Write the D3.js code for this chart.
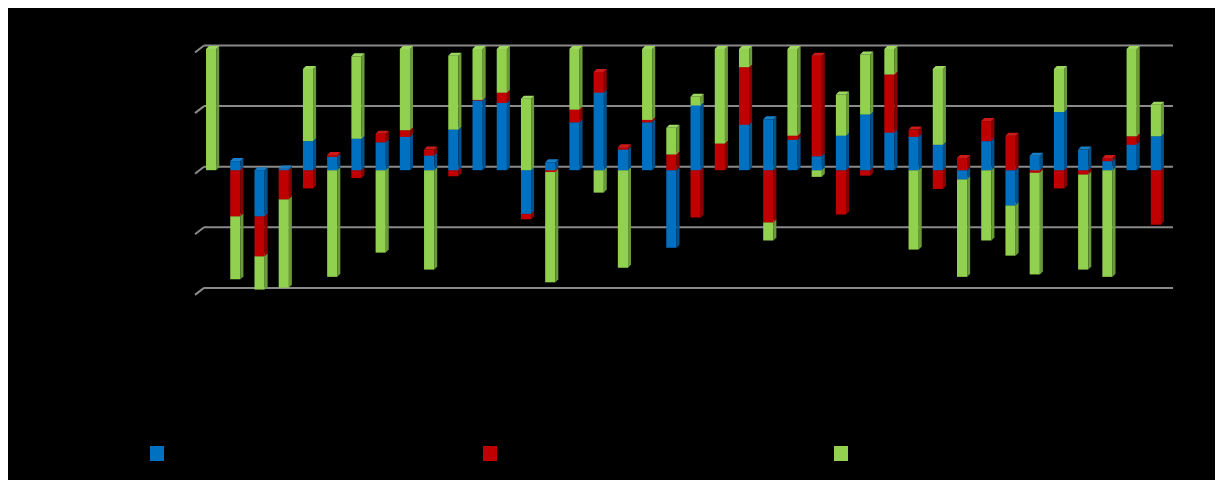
<!DOCTYPE html>
<html>
<head>
<meta charset="utf-8">
<script src="https://cdn.jsdelivr.net/npm/d3@7"></script>
<style>
	body { margin: 0; background: #fff; }
	svg { display: block; }
</style>
</head>
<body>
<div id="chart"></div>
<script>
// chart values
const categories = ["1","2","3","4","5","6","7","8","9","10",
	"11","12","13","14","15","16","17","18","19","20",
	"21","22","23","24","25","26","27","28","29","30",
	"31","32","33","34","35","36","37","38","39","40"];

const seriesBlue = [0, 0.15, -0.76, 0.03, 0.48, 0.22, 0.52, 0.46, 0.55, 0.24,
	0.67, 1.15, 1.11, -0.72, 0.13, 0.79, 1.28, 0.34, 0.79, -1.28,
	1.07, 0, 0.75, 0.84, 0.50, 0.23, 0.57, 0.92, 0.62, 0.55,
	0.42, -0.15, 0.48, -0.58, 0.24, 0.96, 0.34, 0.15, 0.42, 0.56];

const seriesRed = [0, -0.76, -0.66, -0.48, -0.30, 0.03, -0.13, 0.14, 0.11, 0.10,
	-0.10, 0.01, 0.17, -0.09, -0.03, 0.21, 0.34, 0.04, 0.04, 0.26,
	-0.78, 0.44, 0.95, -0.86, 0.07, 1.66, -0.73, -0.09, 0.96, 0.12,
	-0.31, 0.20, 0.33, 0.57, -0.04, -0.30, -0.07, 0.05, 0.14, -0.90];

const seriesGreen = [2.0, -1.04, -0.55, -1.46, 1.19, -1.76, 1.36, -1.36, 1.34, -1.64,
	1.22, 0.84, 0.72, 1.18, -1.82, 1.00, -0.37, -1.61, 1.17, 0.44,
	0.14, 1.56, 0.30, -0.30, 1.43, -0.11, 0.68, 0.99, 0.42, -1.31,
	1.25, -1.61, -1.16, -0.83, -1.68, 0.71, -1.57, -1.76, 1.44, 0.52];

const yTicks = [-2, -1, 0, 1, 2];
const seriesKeys = ["blue", "red", "green"];

// layout
const width = 1223, height = 487;
const plot = { left: 204, right: 1173, top: 45, bottom: 287.4 };
const wall = { dx: -9, dy: 7 };     // side wall depth (left stubs)
const front = { dx: -5, dy: 4 };    // where the bars sit in depth
const depth = { dx: 3, dy: -3 };    // bar thickness
const legendX = [150, 483, 834];

const colors = {
	blue:  { front: "#0070c0", side: "#00518c", top: "#1880c8" },
	red:   { front: "#c00000", side: "#880000", top: "#cc1a1a" },
	green: { front: "#92d050", side: "#6a9a3a", top: "#9ed862" }
};

let rows = categories.map((c, i) => ({
	cat: c, blue: seriesBlue[i], red: seriesRed[i], green: seriesGreen[i]
}));

let svg = d3.select("#chart")
	.append("svg")
	.attr("width", width)
	.attr("height", height)
	.attr("viewBox", [0, 0, width, height]);

svg.append("rect")
	.attr("x", 8).attr("y", 8)
	.attr("width", width - 16).attr("height", height - 15)
	.attr("fill", "#000");

let x = d3.scaleBand()
	.domain(categories)
	.range([plot.left, plot.right])
	.paddingInner(0.58)
	.paddingOuter(0.29);

let y = d3.scaleLinear()
	.domain([-2, 2])
	.range([plot.bottom, plot.top])
	.clamp(true);

// gridlines on the back wall
let yAxis = g => g
	.attr("transform", `translate(${plot.left},0)`)
	.call(d3.axisLeft(y).tickValues(yTicks).tickSize(-(plot.right - plot.left)).tickFormat(""))
	.call(g => g.select(".domain").remove())
	.call(g => g.selectAll(".tick line")
		.attr("stroke", "#8a8a8a")
		.attr("stroke-width", 2))
	.call(g => g.selectAll(".tick").append("line")
		.attr("x1", 0).attr("y1", 0)
		.attr("x2", wall.dx).attr("y2", wall.dy)
		.attr("stroke", "#8a8a8a")
		.attr("stroke-width", 2));

svg.append("g").call(yAxis);

// stacked 3D bars
let stack = d3.stack()
	.keys(seriesKeys)
	.offset(d3.stackOffsetDiverging);

let boxes = [];
stack(rows).forEach(s => {
	s.forEach(d => {
		if (d[0] === d[1]) return;
		let y0 = y(Math.min(d[0], d[1])), y1 = y(Math.max(d[0], d[1]));
		boxes.push({ key: s.key, cat: d.data.cat, top: y1, bottom: y0 });
	});
});
// lower boxes first so the upper ones hide their top faces
boxes.sort((a, b) => b.top - a.top);

let barsg = svg.append("g")
	.attr("transform", `translate(${front.dx},${front.dy})`);

let bw = x.bandwidth();
let box = barsg.selectAll("g.box")
	.data(boxes)
	.join("g")
	.attr("class", "box");

box.append("rect")
	.attr("x", d => x(d.cat))
	.attr("y", d => d.top)
	.attr("width", bw)
	.attr("height", d => Math.max(0.5, d.bottom - d.top))
	.attr("fill", d => colors[d.key].front);

box.append("path")
	.attr("d", d => {
		let r = x(d.cat) + bw;
		return `M${r},${d.top}L${r + depth.dx},${d.top + depth.dy}L${r + depth.dx},${d.bottom + depth.dy}L${r},${d.bottom}Z`;
	})
	.attr("fill", d => colors[d.key].side);

box.append("path")
	.attr("d", d => {
		let l = x(d.cat), r = l + bw;
		return `M${l},${d.top}L${l + depth.dx},${d.top + depth.dy}L${r + depth.dx},${d.top + depth.dy}L${r},${d.top}Z`;
	})
	.attr("fill", d => colors[d.key].top);

// legend swatches (labels are not visible in the original)
svg.append("g")
	.selectAll("rect")
	.data(seriesKeys)
	.join("rect")
	.attr("x", (d, i) => legendX[i])
	.attr("y", 446)
	.attr("width", 14)
	.attr("height", 15)
	.attr("fill", d => colors[d].front);
</script>
</body>
</html>
